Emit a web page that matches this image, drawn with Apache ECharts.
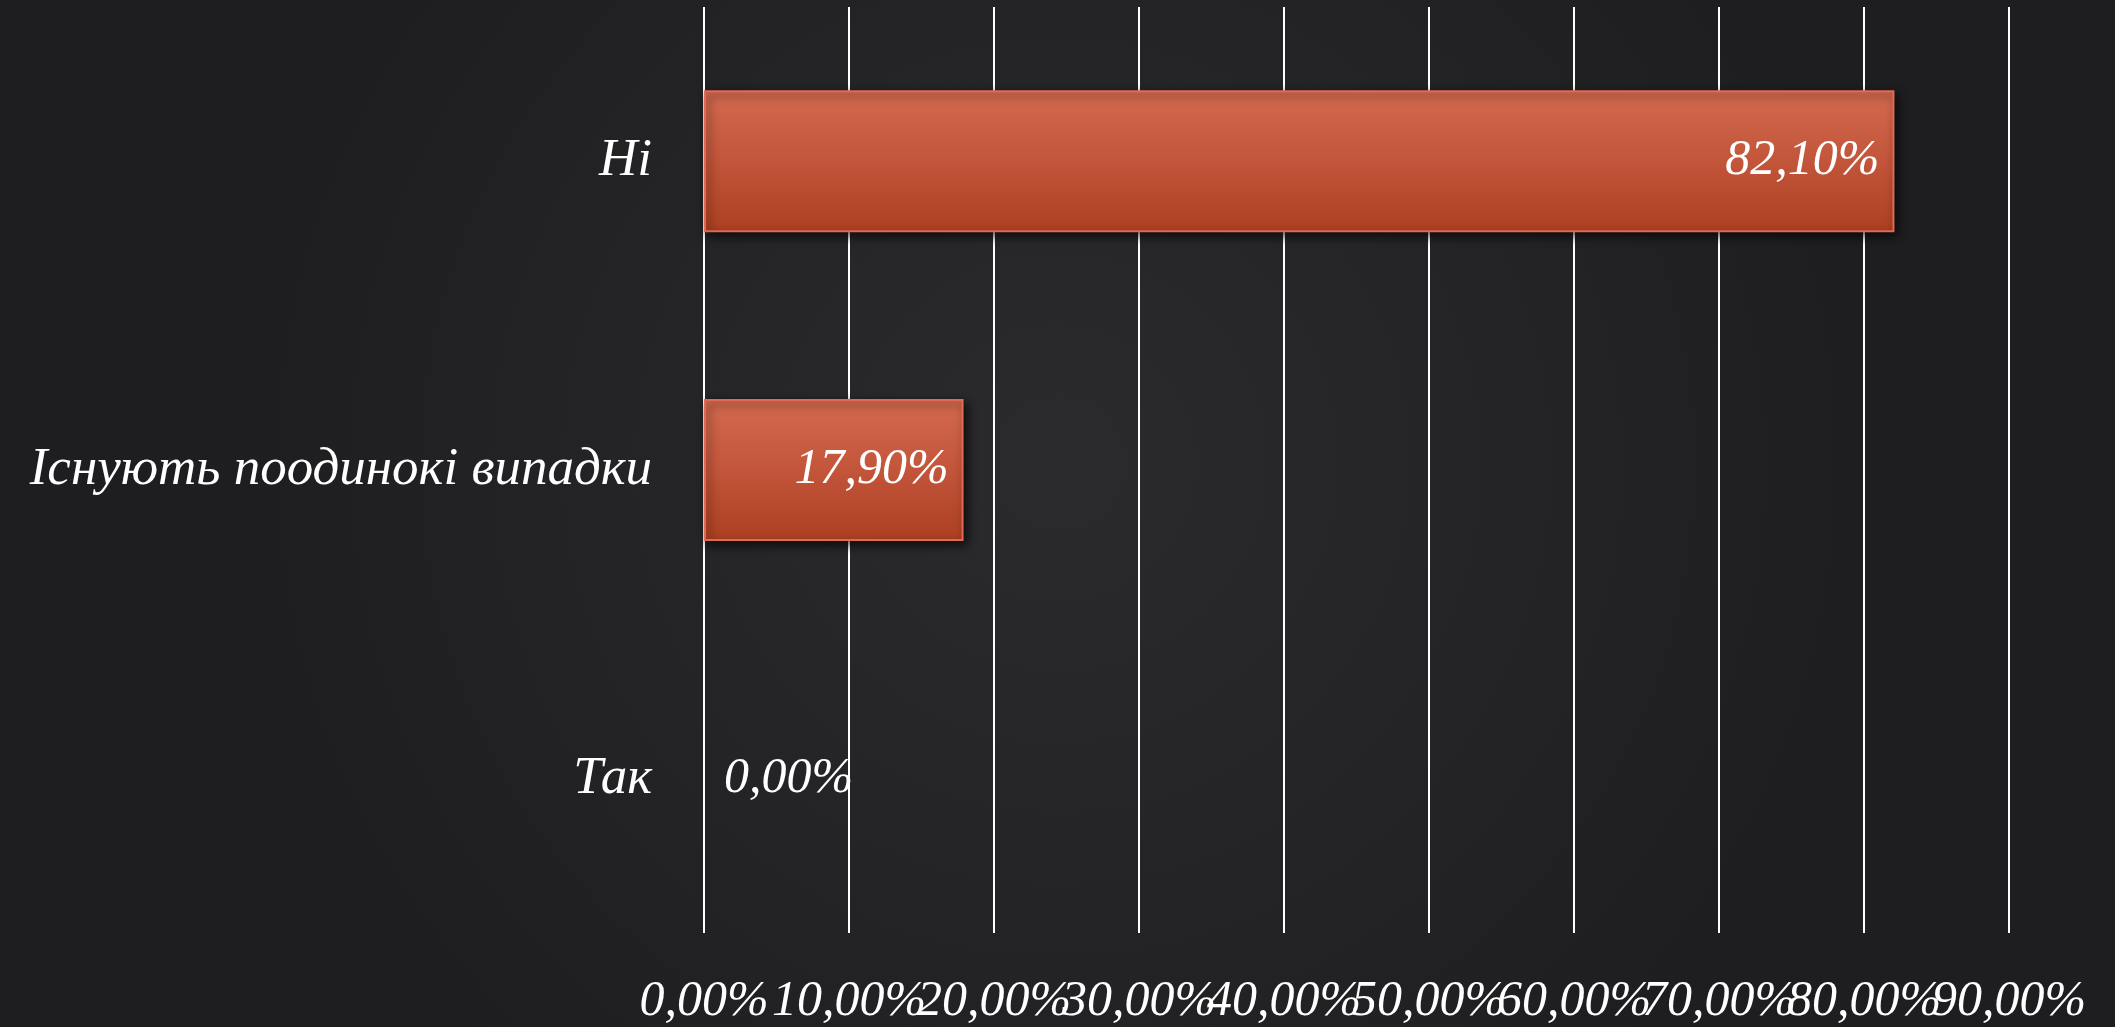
<!DOCTYPE html>
<html>
<head>
<meta charset="utf-8">
<title>Chart</title>
<script src="https://cdn.jsdelivr.net/npm/echarts@6/dist/echarts.min.js"></script>
<style>
  html, body { margin: 0; padding: 0; background: #232325; }
  #main { width: 2115px; height: 1027px; }
</style>
</head>
<body>
<div id="main"></div>
<script>
// categories, bottom to top as drawn on the y axis
const categories = ['Так', 'Існують поодинокі випадки', 'Ні'];
const shares = [0, 17.9, 82.1];
const axisMin = 0;
const axisMax = 90;
const axisStep = 10;

function pct(v) {
    return v.toFixed(2).replace('.', ',') + '%';
}

displayShareBars();

// the tick labels overlap in the original, so they are split over two
// identical x axes (odd / even steps) to stop echarts from dropping any
function makeXAxis(even) {
    return {
        type: 'value',
        min: axisMin,
        max: axisMax,
        interval: axisStep,
        position: 'bottom',
        axisLine: { show: false },
        axisTick: { show: false },
        splitLine: {
            show: even,
            lineStyle: { color: '#ffffff', width: 2 }
        },
        axisLabel: {
            color: '#ffffff',
            fontSize: 50,
            fontStyle: 'italic',
            fontFamily: 'Liberation Serif',
            margin: 44,
            showMinLabel: true,
            showMaxLabel: true,
            formatter: function (v) {
                let step = Math.round(v / axisStep);
                return (step % 2 === 0) === even ? pct(v) : '';
            }
        }
    };
}

function displayShareBars() {
    let myChart = echarts.init(document.getElementById('main'));

    let barFill = new echarts.graphic.LinearGradient(0, 0, 0, 1, [
        { offset: 0, color: '#d46a50' },
        { offset: 0.5, color: '#c2553a' },
        { offset: 1, color: '#ad4021' }
    ]);

    let option = {
        backgroundColor: {
            type: 'radial', x: 0.5, y: 0.45, r: 0.8,
            colorStops: [
                { offset: 0, color: '#2b2b2d' },
                { offset: 1, color: '#1e1e20' }
            ]
        },
        textStyle: {
            fontFamily: 'Liberation Serif',
            fontStyle: 'italic'
        },
        grid: {
            left: 704,
            right: 106,
            top: 7,
            bottom: 92
        },
        xAxis: [makeXAxis(true), makeXAxis(false)],
        yAxis: {
            type: 'category',
            data: categories,
            axisLine: { show: false },
            axisTick: { show: false },
            axisLabel: {
                color: '#ffffff',
                fontSize: 53,
                fontStyle: 'italic',
                fontFamily: 'Liberation Serif',
                margin: 52
            }
        },
        series: [
            {
                name: 'Частка',
                type: 'bar',
                xAxisIndex: 0,
                barWidth: '46%',
                itemStyle: {
                    color: barFill,
                    borderColor: '#e06a55',
                    borderWidth: 2,
                    shadowColor: 'rgba(0,0,0,0.7)',
                    shadowBlur: 10,
                    shadowOffsetX: 3,
                    shadowOffsetY: 4
                },
                label: {
                    show: true,
                    position: 'insideRight',
                    distance: 15,
                    color: '#ffffff',
                    fontSize: 50,
                    fontStyle: 'italic',
                    fontFamily: 'Liberation Serif',
                    formatter: function (p) { return pct(p.value); }
                },
                data: shares.map(function (v) {
                    if (v === 0) {
                        return {
                            value: v,
                            itemStyle: { color: 'rgba(0,0,0,0)', borderWidth: 0, shadowBlur: 0, shadowOffsetX: 0, shadowOffsetY: 0 },
                            label: { position: 'right', distance: 20 }
                        };
                    }
                    return v;
                })
            }
        ]
    };

    myChart.setOption(option);
}
</script>
</body>
</html>
